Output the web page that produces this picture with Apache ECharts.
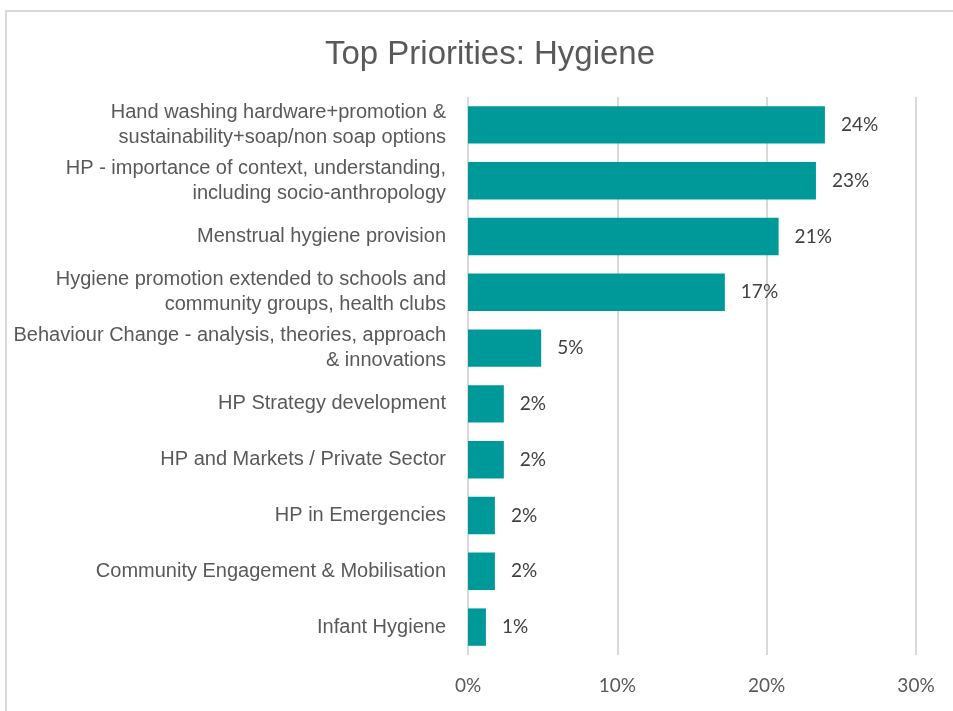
<!DOCTYPE html>
<html>
<head>
<meta charset="utf-8">
<script src="https://cdn.jsdelivr.net/npm/echarts@6/dist/echarts.min.js"></script>
<style>
  html, body { margin: 0; padding: 0; background: #ffffff; }
  #frame { position: absolute; left: 5px; top: 10px; width: 1000px; height: 800px;
           border: 2px solid #d9d9d9; box-sizing: border-box; }
  #chart { position: absolute; left: 0; top: 0; width: 953px; height: 711px; }
</style>
</head>
<body>
<div id="frame"></div>
<div id="chart"></div>
<script>
// Survey priorities for hygiene, share of responses (%)
const categories = [
  'Hand washing hardware+promotion &\nsustainability+soap/non soap options',
  'HP - importance of context, understanding,\nincluding socio-anthropology',
  'Menstrual hygiene provision',
  'Hygiene promotion extended to schools and\ncommunity groups, health clubs',
  'Behaviour Change - analysis, theories, approach\n& innovations',
  'HP Strategy development',
  'HP and Markets / Private Sector',
  'HP in Emergencies',
  'Community Engagement & Mobilisation',
  'Infant Hygiene'
];
const shares = [23.9, 23.3, 20.8, 17.2, 4.9, 2.4, 2.4, 1.8, 1.8, 1.2];
const axisTicks = [0, 10, 20, 30];

const narrow = "'Liberation Sans Narrow', 'Arial Narrow', 'Liberation Sans', sans-serif";
const numFont = "Lato, 'Open Sans', sans-serif";

const chart = echarts.init(document.getElementById('chart'), null, { renderer: 'canvas' });
chart.setOption({
  backgroundColor: 'transparent',
  animation: false,
  title: {
    text: 'Top Priorities: Hygiene',
    left: 485, top: 33,
    textAlign: 'center',
    textStyle: { fontFamily: narrow, fontSize: 33, fontWeight: 'normal', color: '#595959' }
  },
  grid: { left: 468, right: 37, top: 97, bottom: 56, containLabel: false },
  xAxis: {
    type: 'value',
    min: axisTicks[0], max: axisTicks[axisTicks.length - 1], interval: 10,
    axisLine: { show: false }, axisTick: { show: false },
    splitLine: { show: true, lineStyle: { color: '#d9d9d9', width: 2 } },
    axisLabel: {
      margin: 21, formatter: v => v + '%',
      fontFamily: numFont, fontSize: 19, color: '#595959'
    }
  },
  yAxis: {
    type: 'category', data: categories, inverse: true,
    axisLine: { show: false }, axisTick: { show: false },
    axisLabel: {
      margin: 22, align: 'right', lineHeight: 25,
      fontFamily: narrow, fontSize: 20, color: '#595959'
    }
  },
  series: [{
    type: 'bar',
    data: shares,
    barCategoryGap: '33%',
    itemStyle: { color: '#009999' },
    label: {
      show: true, position: 'right', distance: 16,
      formatter: p => Math.round(p.value) + '%',
      fontFamily: numFont, fontSize: 19, color: '#404040'
    }
  }]
});
</script>
</body>
</html>
